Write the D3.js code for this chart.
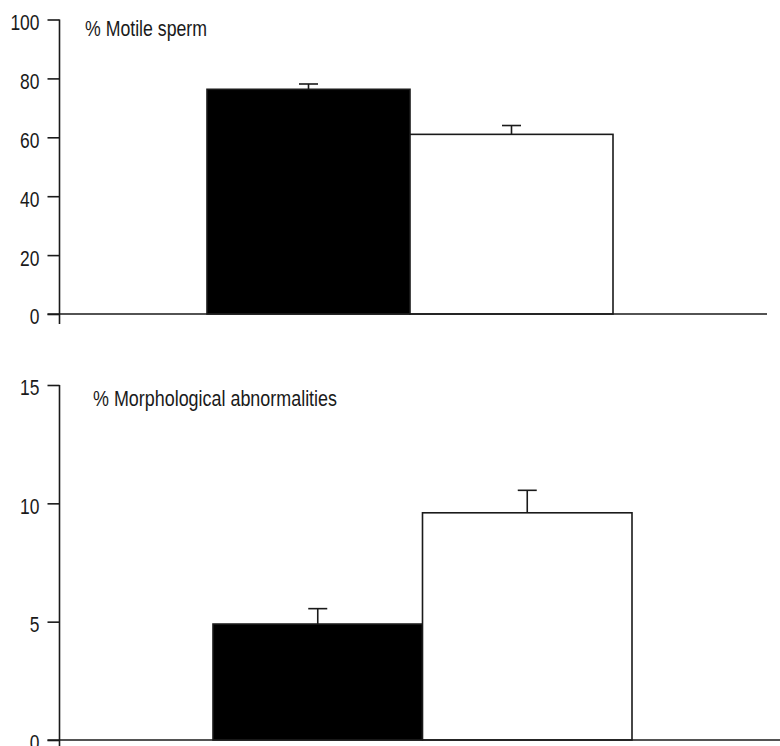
<!DOCTYPE html>
<html>
<head>
<meta charset="utf-8">
<script src="https://cdnjs.cloudflare.com/ajax/libs/d3/7.8.5/d3.min.js"></script>
<style>
  body { margin: 0; background: #fff; }
  svg text { font-family: "Liberation Sans", Arial, Helvetica, sans-serif; fill: #1a1a1a; }
</style>
</head>
<body>
<div id="chart"></div>
<script>
// groups (unlabelled in the figure: black = first group, white = second)
const groups = ["group1", "group2"];
const barFills = ["#000", "#fff"];

// top panel: % motile sperm
const motileValues = [76.3, 61.0];
const motileErrors = [1.8, 3.0];
const motileTicks = [0, 20, 40, 60, 80, 100];

// bottom panel: % morphological abnormalities
const morphValues = [4.9, 9.6];
const morphErrors = [0.65, 0.95];
const morphTicks = [0, 5, 10, 15];

const width = 780, height = 746;
const svg = d3.select("#chart").append("svg")
  .attr("width", width)
  .attr("height", height);

// the figure uses a condensed sans; squeeze the regular face to fit
const digitW = 9.7;

function drawPanel(opts) {
  let y = d3.scaleLinear().domain(opts.domain).range([opts.y0, opts.y1]);
  let x = d3.scaleBand().domain(groups).range(opts.barRange).padding(0);
  let g = svg.append("g");

  // y axis
  let yAxis = g.append("g")
    .attr("transform", "translate(" + opts.axisX + ",0)")
    .call(d3.axisLeft(y).tickValues(opts.ticks).tickSize(12).tickPadding(8).tickSizeOuter(0));
  yAxis.select(".domain").remove();
  yAxis.selectAll(".tick line").attr("stroke", "#1a1a1a").attr("stroke-width", 1.6);
  yAxis.selectAll(".tick text")
    .attr("font-size", 22)
    .attr("dy", "0.45em")
    .attr("fill", "#1a1a1a")
    .attr("textLength", function(d) { return String(d).length * digitW; })
    .attr("lengthAdjust", "spacingAndGlyphs");

  // bars
  g.selectAll(".bar")
    .data(opts.values)
    .enter()
    .append("rect")
    .attr("x", function(d, i) { return x(groups[i]); })
    .attr("y", function(d) { return y(d); })
    .attr("width", x.bandwidth())
    .attr("height", function(d) { return y(0) - y(d); })
    .attr("fill", function(d, i) { return barFills[i]; })
    .attr("stroke", "#1a1a1a")
    .attr("stroke-width", 1.6);

  // error bars (upper only)
  let capW = 19;
  opts.values.forEach(function(v, i) {
    let cx = x(groups[i]) + x.bandwidth() / 2;
    g.append("line")
      .attr("x1", cx).attr("x2", cx)
      .attr("y1", y(v)).attr("y2", y(v + opts.errors[i]))
      .attr("stroke", "#1a1a1a").attr("stroke-width", 1.6);
    g.append("line")
      .attr("x1", cx - capW / 2).attr("x2", cx + capW / 2)
      .attr("y1", y(v + opts.errors[i])).attr("y2", y(v + opts.errors[i]))
      .attr("stroke", "#1a1a1a").attr("stroke-width", 1.6);
  });

  // axis lines
  g.append("line")
    .attr("x1", opts.axisX).attr("x2", opts.axisX)
    .attr("y1", y(opts.domain[1])).attr("y2", opts.axisBottom)
    .attr("stroke", "#1a1a1a").attr("stroke-width", 1.6);
  g.append("line")
    .attr("x1", opts.axisX - 12).attr("x2", opts.xEnd)
    .attr("y1", y(0)).attr("y2", y(0))
    .attr("stroke", "#1a1a1a").attr("stroke-width", 1.6);

  // panel label
  g.append("text")
    .attr("x", opts.labelX)
    .attr("y", opts.labelY)
    .attr("font-size", 22)
    .attr("textLength", opts.labelW)
    .attr("lengthAdjust", "spacingAndGlyphs")
    .text(opts.label);
}

drawPanel({
  domain: [0, 100], y0: 314, y1: 19.5,
  ticks: motileTicks, values: motileValues, errors: motileErrors,
  axisX: 59.5, axisBottom: 324, xEnd: 767,
  barRange: [207, 613],
  label: "% Motile sperm", labelX: 85, labelY: 36, labelW: 122
});

drawPanel({
  domain: [0, 15], y0: 740, y1: 385,
  ticks: morphTicks, values: morphValues, errors: morphErrors,
  axisX: 59.5, axisBottom: 760, xEnd: 780,
  barRange: [213, 632],
  label: "% Morphological abnormalities", labelX: 93, labelY: 406, labelW: 244
});
</script>
</body>
</html>
